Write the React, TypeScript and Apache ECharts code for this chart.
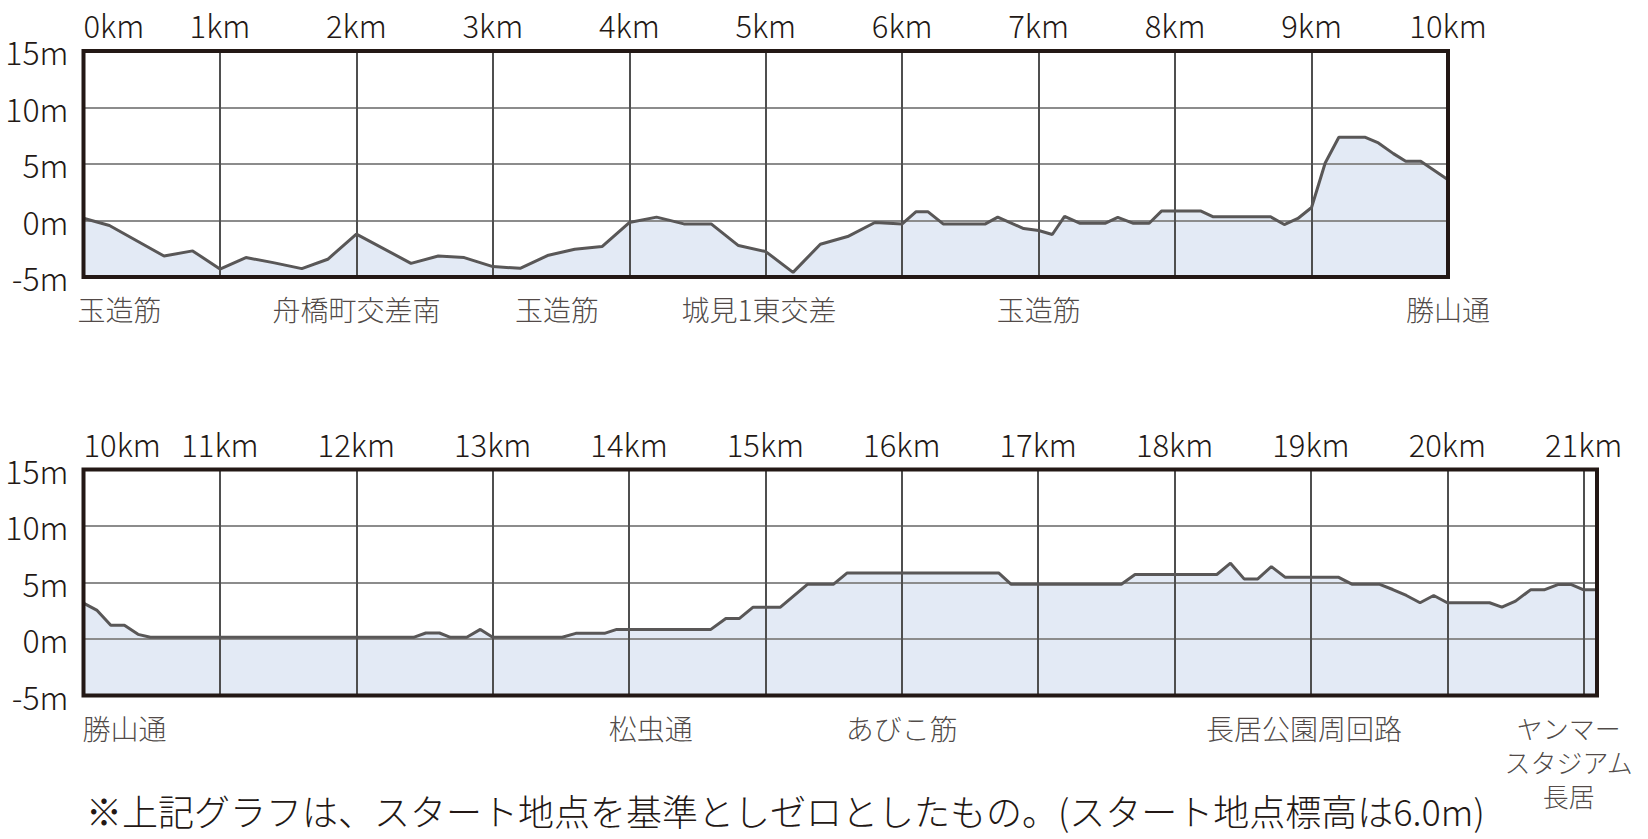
import React, { useEffect, useRef } from 'react';
import * as echarts from 'echarts';

// ---- data ----
const topKm = [0, 0.19, 0.59, 0.8, 1.0, 1.19, 1.39, 1.6, 1.79, 2.0, 2.4, 2.6, 2.79, 3.0, 3.2, 3.4, 3.6, 3.8, 4.0, 4.2, 4.4, 4.6, 4.8, 5.0, 5.2, 5.4, 5.6, 5.8, 6.0, 6.1, 6.19, 6.3, 6.61, 6.7, 6.89, 7.0, 7.1, 7.19, 7.3, 7.49, 7.58, 7.69, 7.81, 7.9, 8.19, 8.28, 8.7, 8.8, 8.9, 9.0, 9.1, 9.2, 9.39, 9.49, 9.6, 9.69, 9.8, 10.0];
const topElev = [0.2, -0.44, -3.14, -2.69, -4.3, -3.28, -3.73, -4.26, -3.43, -1.2, -3.79, -3.14, -3.28, -4.08, -4.23, -3.1, -2.54, -2.31, -0.18, 0.3, -0.3, -0.3, -2.22, -2.75, -4.59, -2.1, -1.42, -0.18, -0.3, 0.77, 0.77, -0.3, -0.3, 0.3, -0.71, -0.89, -1.24, 0.36, -0.24, -0.24, 0.27, -0.24, -0.24, 0.83, 0.83, 0.33, 0.33, -0.36, 0.18, 1.15, 5.09, 7.37, 7.37, 6.86, 5.92, 5.24, 5.24, 3.61];

const bottomKm = [10.0, 10.1, 10.2, 10.3, 10.4, 10.49, 12.42, 12.51, 12.61, 12.69, 12.81, 12.91, 13.0, 13.51, 13.61, 13.82, 13.91, 14.6, 14.71, 14.81, 14.91, 15.11, 15.31, 15.5, 15.6, 16.71, 16.8, 17.61, 17.71, 18.31, 18.41, 18.51, 18.61, 18.71, 18.81, 19.2, 19.3, 19.5, 19.6, 19.7, 19.8, 19.9, 20.0, 20.31, 20.4, 20.5, 20.61, 20.71, 20.81, 20.91, 21.0, 21.0975];
const bottomElev = [3.18, 2.53, 1.21, 1.21, 0.41, 0.15, 0.15, 0.53, 0.53, 0.15, 0.15, 0.85, 0.15, 0.15, 0.5, 0.5, 0.85, 0.85, 1.82, 1.82, 2.82, 2.82, 4.85, 4.85, 5.85, 5.85, 4.85, 4.85, 5.71, 5.71, 6.71, 5.32, 5.32, 6.41, 5.47, 5.47, 4.85, 4.85, 4.38, 3.85, 3.21, 3.85, 3.21, 3.21, 2.82, 3.35, 4.35, 4.35, 4.82, 4.82, 4.35, 4.35];

const topPlaces = ['玉造筋', '舟橋町交差南', '玉造筋', '城見1東交差', '玉造筋', '勝山通'];
const topPlaceKm = [0, 2.0, 3.47, 4.95, 7.0, 10.0];
const bottomPlaces = ['勝山通', '松虫通', 'あびこ筋', '長居公園周回路', 'ヤンマー\nスタジアム\n長居'];
const bottomPlaceKm = [10, 14.16, 16.0, 18.95, 20.89];

const topRange = [0, 10];
const bottomRange = [10, 21.0975];
const elevRange = [-5, 15];
const elevStep = 5;
const kmStep = 1;

const footnote = '※上記グラフは、スタート地点を基準としゼロとしたもの。(スタート地点標高は6.0m)';

// ---- styles ----
const FONT = '"Noto Sans CJK JP", "Noto Sans", sans-serif';
const WEIGHT = 300;
const TEXT = '#231815';
const LINE = '#595757';
const FILL = '#e3eaf5';
const VGRID = '#4f4f4f';
const HGRID = '#8c8c8c';

const zip = (xs: number[], ys: number[]) => xs.map((x, i) => [x, ys[i]]);
const kmFmt = (v: number) => (Math.abs(v - Math.round(v)) < 1e-9 ? `${Math.round(v)}km` : '');

function buildOption() {
  const xAxis = (idx: number, range: number[]) => ({
    gridIndex: idx,
    type: 'value',
    position: 'top',
    min: range[0],
    max: range[1],
    interval: kmStep,
    axisLine: { show: false },
    axisTick: { show: false },
    axisLabel: {
      formatter: kmFmt,
      fontSize: 31,
      fontWeight: WEIGHT,
      color: TEXT,
      fontFamily: FONT,
      margin: 11,
      alignMinLabel: 'left',
    },
    splitLine: { show: true, lineStyle: { color: VGRID, width: 2 } },
    z: 5,
  });
  const yAxis = (idx: number) => ({
    gridIndex: idx,
    type: 'value',
    min: elevRange[0],
    max: elevRange[1],
    interval: elevStep,
    axisLine: { show: false },
    axisTick: { show: false },
    axisLabel: {
      formatter: '{value}m',
      fontSize: 32,
      fontWeight: WEIGHT,
      color: TEXT,
      fontFamily: FONT,
      margin: 15,
    },
    splitLine: { show: true, lineStyle: { color: HGRID, width: 2 } },
    z: 4,
  });
  const grid = (top: number, width: number) => ({
    left: 83.5,
    top,
    width,
    height: 226,
    show: true,
    borderColor: TEXT,
    borderWidth: 4,
    backgroundColor: 'transparent',
    z: 10,
  });
  const areaSeries = (idx: number, data: number[][]) => ({
    type: 'line',
    xAxisIndex: idx,
    yAxisIndex: idx,
    data,
    symbol: 'none',
    lineStyle: { width: 0 },
    areaStyle: { color: FILL, opacity: 1, origin: 'start' },
    z: 1,
    silent: true,
  });
  const lineSeries = (idx: number, data: number[][]) => ({
    type: 'line',
    xAxisIndex: idx,
    yAxisIndex: idx,
    data,
    symbol: 'none',
    lineStyle: { color: LINE, width: 3 },
    z: 6,
    silent: true,
  });
  const placeSeries = (idx: number, names: string[], kms: number[], firstOffset: number) => ({
    type: 'scatter',
    xAxisIndex: idx,
    yAxisIndex: idx,
    symbolSize: 0,
    silent: true,
    clip: false,
    z: 6,
    data: kms.map((k, i) => {
      const multi = names[i].indexOf('\n') >= 0;
      const lbl: any = {};
      if (i === 0) {
        lbl.align = 'left';
        lbl.offset = [firstOffset, 0];
      }
      if (multi) {
        lbl.fontSize = 26;
        lbl.lineHeight = 34;
      }
      return {
        value: [k, elevRange[0]],
        name: names[i],
        label: Object.keys(lbl).length ? lbl : undefined,
      };
    }),
    label: {
      show: true,
      position: 'bottom',
      distance: 15,
      formatter: '{b}',
      fontSize: 28,
      fontWeight: WEIGHT,
      lineHeight: 34,
      color: TEXT,
      fontFamily: FONT,
    },
  });

  return {
    animation: false,
    backgroundColor: '#ffffff',
    title: {
      text: footnote,
      left: 86,
      top: 790,
      padding: 0,
      textStyle: { fontSize: 36, lineHeight: 40, fontWeight: WEIGHT, color: TEXT, fontFamily: FONT },
    },
    grid: [grid(51, 1364.5), grid(469.5, 1513.5)],
    xAxis: [xAxis(0, topRange), xAxis(1, bottomRange)],
    yAxis: [yAxis(0), yAxis(1)],
    series: [
      areaSeries(0, zip(topKm, topElev)),
      lineSeries(0, zip(topKm, topElev)),
      placeSeries(0, topPlaces, topPlaceKm, -6),
      areaSeries(1, zip(bottomKm, bottomElev)),
      lineSeries(1, zip(bottomKm, bottomElev)),
      placeSeries(1, bottomPlaces, bottomPlaceKm, -1),
    ],
  };
}

export default function App() {
  const ref = useRef<HTMLDivElement>(null);
  useEffect(() => {
    if (!ref.current) return;
    const chart = echarts.init(ref.current, undefined, { renderer: 'svg' });
    chart.setOption(buildOption() as any);
    return () => chart.dispose();
  }, []);
  return (
    <div
      ref={ref}
      style={{ position: 'fixed', left: 0, top: 0, width: 1648, height: 839, background: '#fff' }}
    />
  );
}
